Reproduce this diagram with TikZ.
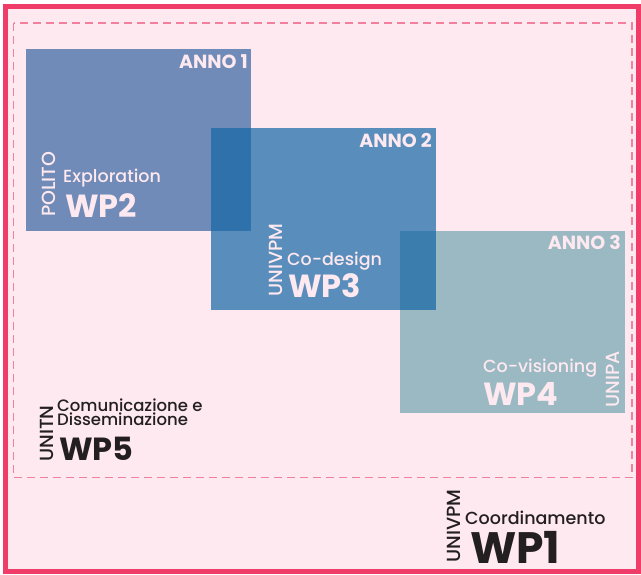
\documentclass[tikz,border=0pt]{standalone}
\usepackage{fontspec}
\setmainfont{Poppins}
\newfontfamily\mediumfont{Poppins Medium}
\usetikzlibrary{positioning}
\definecolor{bgpink}{RGB}{253,233,239}
\definecolor{framered}{RGB}{240,60,105}
\definecolor{dashpink}{RGB}{240,128,158}
\definecolor{wptwo}{RGB}{53,100,160}
\definecolor{wpthree}{RGB}{20,102,166}
\definecolor{wpfour}{RGB}{112,166,175}
\definecolor{inkdark}{RGB}{35,31,32}

\begin{document}
\begin{tikzpicture}[x=1pt,y=-1pt,
	wpbox/.style={minimum width=225pt,minimum height=182pt,inner sep=0pt,anchor=north west,fill opacity=0.7},
	anno/.style={inner sep=0pt,anchor=base east,text=bgpink,font=\fontsize{19}{20}\selectfont\bfseries},
	uni/.style={inner sep=0pt,anchor=base west,rotate=90,text depth=0pt,font=\fontsize{19}{20}\selectfont\mediumfont},
	task/.style={inner sep=0pt,anchor=base west,font=\fontsize{17.5}{18}\selectfont\mediumfont},
	wp/.style={inner sep=0pt,anchor=base west,text depth=0pt,font=\fontsize{32}{32}\selectfont\bfseries}]
	\useasboundingbox (0,0) rectangle (641,574);
	\draw[framered,fill=bgpink,line width=5pt] (5,6.5) rectangle (638.5,571.5);
	\draw[dashpink,line width=1.3pt,dash pattern=on 8pt off 5pt] (13.5,23) rectangle (632,477.5);
	% work packages, one per year
	\node[wpbox,fill=wptwo] (box2) at (26,49) {};
	\node[wpbox,fill=wpfour] (box4) at (400,231) {};
	\node[wpbox,fill=wpthree] (box3) at (211,128) {};
	\node[anno] (anno1) at (248,68) {ANNO 1};
	\node[anno] (anno2) at (432,147) {ANNO 2};
	\node[anno] (anno3) at (621,249) {ANNO 3};
	\node[uni,text=bgpink] (polito) at (55,217) {POLITO};
	\node[task,text=bgpink] (explo) at (63,182) {Exploration};
	\node[wp,text=bgpink] (wp2) at (65,217) {WP2};
	\node[uni,text=bgpink] (univpm3) at (282,297) {UNIVPM};
	\node[task,text=bgpink] (codes) at (287,265) {Co-design};
	\node[wp,text=bgpink] (wp3) at (288,297) {WP3};
	\node[uni,text=bgpink] (unipa) at (619,408) {UNIPA};
	\node[task,text=bgpink] (covis) at (483,372) {Co-visioning};
	\node[wp,text=bgpink] (wp4) at (483,405) {WP4};
	% transversal ones
	\node[uni,text=inkdark] (unitn) at (53,462) {UNITN};
	\node[inner sep=0pt,anchor=north west,align=left,text=inkdark,font=\fontsize{16.5}{14}\selectfont\mediumfont] (comu) at (57,399) {Comunicazione e\\Disseminazione};
	\node[wp,text=inkdark] (wp5) at (59,460) {WP5};
	\node[uni,text=inkdark] (univpm1) at (460,563) {UNIVPM};
	\node[task,text=inkdark] (coord) at (465,524) {Coordinamento};
	\node[wp,text=inkdark,font=\fontsize{44}{44}\selectfont\bfseries] (wp1) at (470,563) {WP1};
\end{tikzpicture}
\end{document}
